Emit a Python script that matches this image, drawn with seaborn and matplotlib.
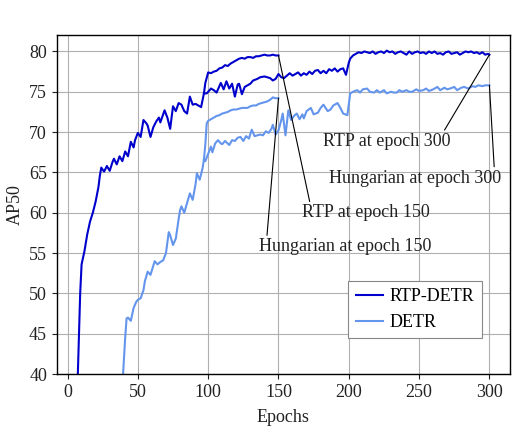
import pandas as pd
import numpy as np
import matplotlib
matplotlib.use('Agg')
import matplotlib.pyplot as plt
import seaborn as sns

# RTP-DETR, main run (300 epochs)
rtp_ep = [7, 8, 9, 10, 12, 14, 16, 18, 20, 22, 23, 24, 26, 28, 30, 32, 33, 35, 37, 39,
          41, 43, 45, 47, 48, 50, 52, 54, 56, 57, 59, 61, 63, 65, 66, 69, 71, 73, 75, 77,
          79, 81, 83, 85, 87, 89, 91, 93, 95, 97, 99, 102, 104, 106, 109, 111, 113, 115, 117, 119,
          121, 122, 124, 126, 128, 130, 132, 135, 137, 140, 142, 144, 146, 148, 150, 152, 154, 156, 158, 160,
          162, 164, 166, 168, 170, 172, 174, 176, 178, 180, 182, 184, 186, 188, 190, 192, 194, 196, 198, 200,
          201, 203, 205, 207, 209, 211, 213, 215, 217, 219, 221, 223, 225, 227, 229, 231, 233, 235, 237, 239,
          241, 243, 245, 247, 249, 251, 253, 255, 257, 259, 261, 263, 265, 267, 269, 271, 273, 275, 277, 279,
          281, 283, 285, 287, 289, 291, 293, 295, 297, 299, 300]
rtp_ap = [38.0, 44.0, 50.0, 53.6, 55.2, 57.3, 58.9, 60.0, 61.4, 63.2, 64.6, 65.6, 65.1, 65.8, 65.2, 66.3, 66.7, 66.0, 67.0, 66.4,
          67.6, 67.0, 68.8, 68.1, 69.0, 69.9, 69.4, 71.5, 71.1, 70.8, 69.4, 70.6, 71.3, 71.8, 71.2, 72.7, 71.8, 70.4, 73.2, 72.6,
          73.6, 73.4, 72.6, 72.3, 74.4, 73.4, 73.5, 73.3, 73.1, 74.8, 74.8, 75.4, 75.2, 74.9, 76.1, 75.3, 76.3, 75.4, 76.0, 74.4,
          75.9, 76.0, 74.7, 75.6, 75.8, 76.0, 76.4, 76.6, 76.8, 76.9, 76.8, 76.7, 76.4, 76.6, 77.2, 76.8, 76.7, 77.0, 77.3, 77.0,
          77.2, 77.4, 77.0, 77.3, 77.1, 77.5, 77.2, 77.6, 77.7, 77.3, 77.6, 77.3, 77.8, 77.6, 77.9, 77.5, 77.8, 77.9, 77.1, 78.6,
          79.1, 79.5, 79.7, 79.9, 79.8, 80.0, 79.9, 79.8, 80.0, 79.7, 79.9, 80.0, 79.8, 80.1, 79.9, 80.0, 79.7, 79.9, 80.0, 79.8,
          79.6, 80.0, 79.7, 79.9, 80.0, 79.8, 79.9, 79.7, 80.0, 79.8, 80.0, 79.7, 79.8, 79.6, 79.9, 80.0, 79.7, 79.8, 79.9, 79.6,
          79.8, 80.0, 79.9, 80.0, 79.8, 79.9, 79.7, 79.9, 79.6, 79.7, 79.6]

# RTP-DETR, 150-epoch schedule
rtp150_ep = [97, 98, 100, 102, 104, 106, 108, 110, 112, 114, 116, 118, 120, 122, 124, 126, 128, 130, 132, 134,
             136, 138, 140, 142, 144, 146, 148, 150]
rtp150_ap = [74.8, 76.1, 77.4, 77.3, 77.5, 77.6, 77.9, 78.0, 78.3, 78.2, 78.5, 78.7, 78.9, 79.1, 79.2, 79.1, 79.3, 79.3, 79.2, 79.4,
             79.4, 79.5, 79.6, 79.5, 79.5, 79.6, 79.5, 79.5]

# DETR (Hungarian), main run
detr_ep = [39, 40, 41, 42, 43, 45, 47, 49, 50, 52, 54, 55, 57, 59, 62, 64, 66, 68, 70, 72,
           73, 75, 77, 79, 80, 81, 83, 85, 87, 89, 91, 92, 94, 96, 97, 98, 100, 102, 103, 105,
           107, 109, 110, 112, 115, 117, 119, 121, 123, 125, 127, 129, 131, 133, 135, 137, 139, 141, 143, 145,
           146, 148, 150, 152, 153, 155, 157, 159, 161, 163, 165, 167, 168, 170, 173, 175, 178, 180, 182, 185,
           187, 189, 192, 194, 196, 199, 201, 203, 206, 208, 210, 213, 215, 218, 220, 222, 225, 227, 230, 232,
           234, 236, 238, 241, 243, 245, 248, 250, 253, 255, 257, 260, 263, 265, 268, 270, 272, 275, 277, 280,
           282, 285, 288, 290, 292, 295, 297, 300]
detr_ap = [38.5, 41.5, 44.5, 46.9, 47.0, 46.6, 48.2, 49.0, 49.2, 49.4, 50.4, 51.5, 52.7, 52.3, 54.0, 53.6, 53.9, 54.1, 55.0, 57.6,
           57.2, 56.0, 56.8, 59.2, 60.3, 60.8, 60.0, 61.2, 62.4, 61.6, 63.5, 64.9, 64.1, 65.5, 66.6, 66.4, 67.3, 68.2, 67.5, 68.6,
           69.0, 68.6, 68.5, 68.9, 68.4, 69.0, 68.9, 69.3, 69.4, 68.9, 69.5, 69.2, 70.3, 69.5, 69.6, 69.7, 69.6, 70.1, 69.9, 70.4,
           70.9, 69.7, 70.2, 71.5, 72.3, 69.6, 72.7, 71.5, 72.0, 72.3, 71.6, 72.2, 71.7, 72.6, 73.0, 72.2, 72.4, 73.0, 73.4, 72.6,
           72.8, 73.3, 73.6, 73.0, 72.3, 72.1, 74.8, 75.0, 75.2, 74.9, 75.3, 75.4, 75.0, 74.9, 75.2, 74.9, 75.2, 74.8, 75.0, 74.9,
           74.9, 75.2, 75.0, 75.2, 75.0, 75.0, 75.3, 75.1, 75.2, 75.4, 75.1, 75.3, 75.6, 75.2, 75.5, 75.3, 75.4, 75.6, 75.2, 75.5,
           75.6, 75.4, 75.7, 75.6, 75.8, 75.7, 75.8, 75.8]

# DETR, 150-epoch schedule
detr150_ep = [97, 98, 99, 100, 102, 104, 106, 108, 110, 112, 114, 116, 118, 120, 122, 124, 126, 128, 130, 132,
              134, 136, 138, 140, 142, 144, 146, 148, 150]
detr150_ap = [66.6, 68.5, 71.1, 71.4, 71.6, 71.8, 72.0, 72.1, 72.3, 72.4, 72.5, 72.7, 72.8, 72.8, 72.9, 73.0, 73.0, 73.0, 73.2, 73.3,
              73.3, 73.5, 73.6, 73.7, 73.8, 74.0, 74.3, 74.2, 74.2]

dark = '#0000CD'
light = '#6495ED'

plt.rcParams['font.family'] = ['Liberation Serif', 'DejaVu Serif']
plt.rcParams['font.size'] = 13
plt.rcParams['mathtext.fontset'] = 'stix'

fig = plt.figure(figsize=(5.12, 4.28), dpi=100)
ax = fig.add_axes([0.111, 0.126, 0.885, 0.7915])
ax.grid(True, color='#b0b0b0', lw=0.8, zorder=0)
ax.set_axisbelow(True)

sns.lineplot(x=rtp150_ep, y=rtp150_ap, color=dark, lw=1.5, ax=ax, sort=False, estimator=None)
sns.lineplot(x=detr150_ep, y=detr150_ap, color=light, lw=1.5, ax=ax, sort=False, estimator=None)
sns.lineplot(x=rtp_ep, y=rtp_ap, color=dark, lw=1.5, ax=ax, sort=False, estimator=None, label='RTP-DETR')
sns.lineplot(x=detr_ep, y=detr_ap, color=light, lw=1.5, ax=ax, sort=False, estimator=None, label='DETR')

ax.set_xlim(-7.6, 314.6)
ax.set_ylim(40, 82)
ax.set_xticks([0, 50, 100, 150, 200, 250, 300])
ax.set_yticks([40, 45, 50, 55, 60, 65, 70, 75, 80])
ax.tick_params(colors='#222222', labelsize=13, length=3.5, width=0.8)
for s in ax.spines.values():
    s.set_color('black')
    s.set_linewidth(1.0)
ax.set_xlabel('Epochs', fontsize=13, color='#222222', labelpad=6)
ax.set_ylabel('AP50', fontsize=13, color='#222222', labelpad=4)

notes = [
    ('RTP at epoch 300', (300, 79.6), (227, 68.85), (0.94, 1.0)),
    ('Hungarian at epoch 300', (300, 75.8), (247.2, 64.3), (0.96, 1.0)),
    ('RTP at epoch 150', (150, 79.5), (212.2, 60.0), (0.064, 1.0)),
    ('Hungarian at epoch 150', (150, 74.2), (197.2, 55.8), (0.047, 1.0)),
]
for txt, xy, xyt, rp in notes:
    ax.annotate(txt, xy=xy, xytext=xyt, ha='center', va='center', fontsize=13, color='#222222',
                arrowprops=dict(arrowstyle='-', color='black', lw=0.8, relpos=rp, shrinkA=0, shrinkB=0))

leg = ax.legend(loc='lower right', bbox_to_anchor=(0.938, 0.106), borderaxespad=0, fancybox=False,
                edgecolor='#888888', framealpha=1, fontsize=13, handlelength=1.5, handletextpad=0.4)
leg.get_frame().set_linewidth(0.8)

fig.savefig('out.png', dpi=100)
